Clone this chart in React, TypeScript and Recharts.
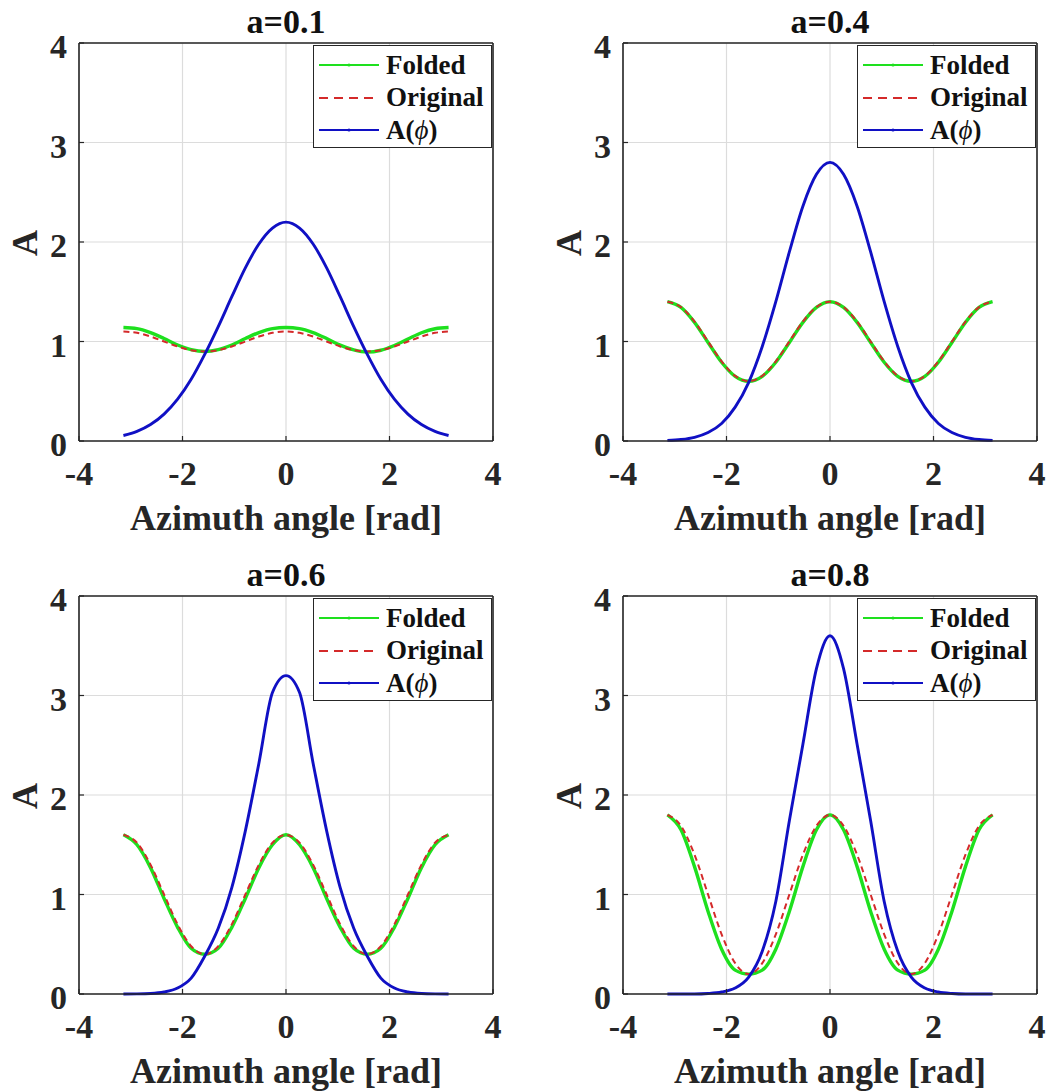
import React from 'react';
import { LineChart, Line, XAxis, YAxis, CartesianGrid, Legend } from 'recharts';

// azimuth samples (rad), shared by every panel
const PHI = [-3.1416, -2.8798, -2.618, -2.3562, -2.0944, -1.8326, -1.5708, -1.309, -1.0472, -0.7854, -0.5236, -0.2618, 0,
  0.2618, 0.5236, 0.7854, 1.0472, 1.309, 1.5708, 1.8326, 2.0944, 2.3562, 2.618, 2.8798, 3.1416];

const X_TICKS = [-4, -2, 0, 2, 4];
const Y_TICKS = [0, 1, 2, 3, 4];

// a=0.1
const FOLDED_01 = [1.14, 1.13, 1.09, 1.03, 0.965, 0.918, 0.9, 0.918, 0.965, 1.03, 1.09, 1.13, 1.14, 1.13, 1.09, 1.03, 0.963, 0.915, 0.893, 0.912, 0.96, 1.025, 1.088, 1.128, 1.14];
const ORIGINAL_01 = [1.1, 1.087, 1.05, 1.0, 0.95, 0.913, 0.9, 0.913, 0.95, 1.0, 1.05, 1.087, 1.1, 1.087, 1.05, 1.0, 0.95, 0.913, 0.9, 0.913, 0.95, 1.0, 1.05, 1.087, 1.1];
const AMP_01 = [0.055, 0.096, 0.165, 0.27, 0.42, 0.62, 0.87, 1.15, 1.45, 1.74, 1.98, 2.14, 2.2, 2.14, 1.98, 1.74, 1.45, 1.15, 0.87, 0.62, 0.42, 0.27, 0.165, 0.096, 0.055];

// a=0.4
const FOLDED_04 = [1.4, 1.342, 1.192, 0.99, 0.792, 0.65, 0.6, 0.65, 0.792, 0.99, 1.192, 1.342, 1.4, 1.342, 1.192, 0.99, 0.792, 0.65, 0.6, 0.65, 0.792, 0.99, 1.192, 1.342, 1.4];
const ORIGINAL_04 = [1.4, 1.346, 1.2, 1.0, 0.8, 0.654, 0.6, 0.654, 0.8, 1.0, 1.2, 1.346, 1.4, 1.346, 1.2, 1.0, 0.8, 0.654, 0.6, 0.654, 0.8, 1.0, 1.2, 1.346, 1.4];
const AMP_04 = [0.006, 0.015, 0.037, 0.085, 0.176, 0.34, 0.59, 0.95, 1.4, 1.9, 2.36, 2.68, 2.8, 2.68, 2.36, 1.9, 1.4, 0.95, 0.59, 0.34, 0.176, 0.085, 0.037, 0.015, 0.006];

// a=0.6
const FOLDED_06 = [1.6, 1.5, 1.27, 0.96, 0.67, 0.46, 0.4, 0.46, 0.67, 0.96, 1.27, 1.5, 1.6, 1.5, 1.27, 0.96, 0.67, 0.46, 0.4, 0.46, 0.67, 0.96, 1.27, 1.5, 1.6];
const ORIGINAL_06 = [1.6, 1.52, 1.3, 1.0, 0.7, 0.48, 0.4, 0.48, 0.7, 1.0, 1.3, 1.52, 1.6, 1.52, 1.3, 1.0, 0.7, 0.48, 0.4, 0.48, 0.7, 1.0, 1.3, 1.52, 1.6];
const AMP_06 = [0, 0.001, 0.005, 0.02, 0.06, 0.16, 0.38, 0.66, 1.07, 1.64, 2.32, 3.03, 3.2, 3.03, 2.32, 1.64, 1.07, 0.66, 0.38, 0.16, 0.06, 0.02, 0.005, 0.001, 0];

// a=0.8
const FOLDED_08 = [1.8, 1.65, 1.28, 0.83, 0.45, 0.24, 0.2, 0.24, 0.45, 0.83, 1.28, 1.65, 1.8, 1.65, 1.28, 0.83, 0.45, 0.24, 0.2, 0.24, 0.45, 0.83, 1.28, 1.65, 1.8];
const ORIGINAL_08 = [1.8, 1.69, 1.4, 1.0, 0.6, 0.31, 0.2, 0.31, 0.6, 1.0, 1.4, 1.69, 1.8, 1.69, 1.4, 1.0, 0.6, 0.31, 0.2, 0.31, 0.6, 1.0, 1.4, 1.69, 1.8];
const AMP_08 = [0, 0, 0, 0.005, 0.02, 0.06, 0.17, 0.43, 0.93, 1.74, 2.51, 3.27, 3.6, 3.27, 2.51, 1.74, 0.93, 0.43, 0.17, 0.06, 0.02, 0.005, 0, 0, 0];

const FONT = '"Liberation Serif", "Times New Roman", serif';
const INK = '#262626';
const GREEN = '#1ee01e';
const RED = '#d42a2a';
const BLUE = '#1010c4';
const GRID = '#dcdcdc';

// panel geometry (each panel is the same size)
const W = 524;
const H = 546;
const PLOT_L = 79;
const PLOT_R = 493;
const PLOT_T = 43;
const PLOT_B = 441;

const XTick = ({ x, payload }: any) => (
  <text x={x} y={PLOT_B + 44} textAnchor="middle" fontFamily={FONT} fontWeight="bold" fontSize={34} fill={INK}>
    {payload.value}
  </text>
);

const YTick = ({ y, payload }: any) => (
  <text x={PLOT_L - 12} y={y + 15} textAnchor="end" fontFamily={FONT} fontWeight="bold" fontSize={34} fill={INK}>
    {payload.value}
  </text>
);

const SampleLine = ({ color, dashed }: { color: string; dashed?: boolean }) => (
  <svg width={62} height={12} style={{ display: 'block' }}>
    <line x1={1} x2={61} y1={6} y2={6} stroke={color} strokeWidth={2} strokeDasharray={dashed ? '9 6' : undefined} />
    {!dashed && <circle cx={31} cy={6} r={1.6} fill={color} />}
  </svg>
);

const LegendBox = () => {
  const rows = [
    { color: GREEN, dashed: false, label: <span>Folded</span> },
    { color: RED, dashed: true, label: <span>Original</span> },
    { color: BLUE, dashed: false, label: <span>A(<i style={{ fontWeight: 'normal' }}>ϕ</i>)</span> },
  ];
  return (
    <div style={{
      width: 179, height: 103, boxSizing: 'border-box', border: `1.5px solid ${INK}`, background: '#fff',
      padding: '3px 0 0 4px', fontFamily: FONT, fontWeight: 'bold', fontSize: 27, color: '#111',
    }}>
      {rows.map((r, i) => (
        <div key={i} style={{ display: 'flex', alignItems: 'center', height: 32.5 }}>
          <SampleLine color={r.color} dashed={r.dashed} />
          <div style={{ marginLeft: 6, lineHeight: '27px' }}>{r.label}</div>
        </div>
      ))}
    </div>
  );
};

type PanelProps = {
  title: string;
  folded: number[];
  original: number[];
  amp: number[];
  left: number;
  top: number;
};

const Panel = ({ title, folded, original, amp, left, top }: PanelProps) => {
  const data = PHI.map((phi, i) => ({ phi, folded: folded[i], original: original[i], amp: amp[i] }));
  const axisLine = { stroke: INK, strokeWidth: 1.6 };
  const tickLine = { stroke: INK, strokeWidth: 1.2 };
  return (
    <div style={{ position: 'absolute', left, top, width: W, height: H }}>
      <div style={{
        position: 'absolute', left: PLOT_L, width: PLOT_R - PLOT_L, top: 5, textAlign: 'center',
        fontFamily: FONT, fontWeight: 'bold', fontSize: 34, lineHeight: '34px', color: '#111', zIndex: 2,
      }}>
        {title}
      </div>
      <LineChart width={W} height={H} data={data} margin={{ top: PLOT_T - 1, right: W - PLOT_R - 1, bottom: 0, left: 0 }}>
        <CartesianGrid stroke={GRID} strokeWidth={1.2} />
        <XAxis
          dataKey="phi" type="number" domain={[-4, 4]} ticks={X_TICKS} interval={0}
          height={H - PLOT_B} tickSize={-5} axisLine={axisLine} tickLine={tickLine} tick={<XTick />}
          label={{
            content: () => (
              <text x={(PLOT_L + PLOT_R) / 2} y={PLOT_B + 89} textAnchor="middle" fontFamily={FONT}
                fontWeight="bold" fontSize={36} fill={INK}>
                Azimuth angle [rad]
              </text>
            ),
          }}
        />
        <XAxis
          xAxisId="top" orientation="top" dataKey="phi" type="number" domain={[-4, 4]} ticks={X_TICKS}
          interval={0} height={1} tickSize={-5} axisLine={axisLine} tickLine={tickLine} tick={false}
        />
        <YAxis
          type="number" domain={[0, 4]} ticks={Y_TICKS} interval={0} width={PLOT_L}
          tickSize={-5} axisLine={axisLine} tickLine={tickLine} tick={<YTick />}
          label={{
            content: () => (
              <text transform={`translate(37, ${(PLOT_T + PLOT_B) / 2 + 1}) rotate(-90)`} textAnchor="middle"
                fontFamily={FONT} fontWeight="bold" fontSize={36} fill={INK}>
                A
              </text>
            ),
          }}
        />
        <YAxis
          yAxisId="right" orientation="right" type="number" domain={[0, 4]} ticks={Y_TICKS} interval={0}
          width={1} tickSize={-5} axisLine={axisLine} tickLine={tickLine} tick={false}
        />
        <Legend
          layout="vertical" align="center" verticalAlign="middle"
          wrapperStyle={{ left: 313, top: 45, width: 179, height: 103 }}
          content={() => <LegendBox />}
        />
        <Line dataKey="folded" type="monotone" stroke={GREEN} strokeWidth={3.4} dot={false} activeDot={false} isAnimationActive={false} />
        <Line dataKey="original" type="monotone" stroke={RED} strokeWidth={2} strokeDasharray="6 4" dot={false} activeDot={false} isAnimationActive={false} />
        <Line dataKey="amp" type="monotone" stroke={BLUE} strokeWidth={2.9} dot={false} activeDot={false} isAnimationActive={false} />
      </LineChart>
    </div>
  );
};

export default function App() {
  return (
    <div style={{ position: 'absolute', left: 0, top: 0, width: 1048, height: 1092, overflow: 'hidden', background: '#fff' }}>
      <Panel title="a=0.1" folded={FOLDED_01} original={ORIGINAL_01} amp={AMP_01} left={0} top={0} />
      <Panel title="a=0.4" folded={FOLDED_04} original={ORIGINAL_04} amp={AMP_04} left={544} top={0} />
      <Panel title="a=0.6" folded={FOLDED_06} original={ORIGINAL_06} amp={AMP_06} left={0} top={553} />
      <Panel title="a=0.8" folded={FOLDED_08} original={ORIGINAL_08} amp={AMP_08} left={544} top={553} />
    </div>
  );
}
